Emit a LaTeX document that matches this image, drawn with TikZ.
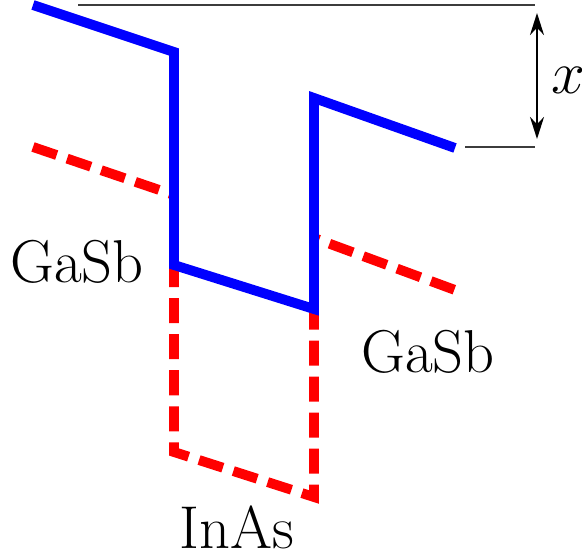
\documentclass[tikz,border=0pt]{standalone}
\usetikzlibrary{arrows.meta}
\definecolor{band}{RGB}{0,0,255}
\definecolor{hole}{RGB}{255,0,0}
\definecolor{guide}{RGB}{60,60,60}
\tikzset{
  >={Stealth[length=2.2mm,width=1.4mm]},
  cband/.style={draw=band,line width=2.8pt,line join=miter},
  vband/.style={draw=hole,line width=2.8pt,dash pattern=on 0.25cm off 0.11cm},
  ref line/.style={draw=guide,line width=0.5pt},
  tag/.style={font=\fontsize{17.2}{20}\selectfont,inner sep=0pt},
}
\begin{document}
\begin{tikzpicture}[x=0.01cm,y=-0.01cm]
  \useasboundingbox (0,0) rectangle (582,558);
  % valence band (dashed, below)
  \draw[vband] (33,147) -- (174,195) -- (174,452) -- (314,497) -- (314,238) -- (455,290);
  % conduction band
  \draw[cband] (33,5) -- (174,52) -- (174,265) -- (314,309) -- (314,98) -- (455,148);
  % offset marks
  \coordinate (top) at (535,5);
  \coordinate (low) at (535,147);
  \draw[ref line] (78,5) -- (top);
  \draw[ref line] (465,147) -- (low);
  \coordinate (atop) at (537,13);
  \coordinate (alow) at (537,139);
  \draw[<->,line width=0.6pt] (atop) -- (alow);
  \node[tag] (offset) at (568,80) {$x$};
  % layer names
  \node[tag] (left) at (77,262) {GaSb};
  \node[tag] (right) at (428,352) {GaSb};
  \node[tag] (well) at (237,527) {InAs};
\end{tikzpicture}
\end{document}
